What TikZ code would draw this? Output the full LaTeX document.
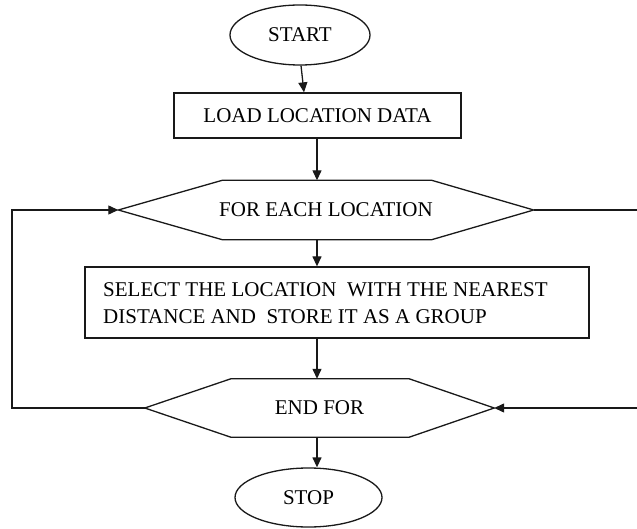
\documentclass[tikz,border=0pt]{standalone}
\usepackage{fontspec}
\setmainfont{Liberation Serif}
\usetikzlibrary{arrows.meta,shapes.geometric}

\tikzset{
  x=1pt, y=1pt,
  line/.style={line width=1.3pt, draw=black!90},
  flow/.style={line, -{Triangle[length=10pt,width=9pt]}},
  labelfont/.style={font=\fontsize{21}{27}\selectfont},
  terminal/.style={ellipse, line, inner sep=0pt, labelfont},
  procbox/.style={rectangle, line, inner sep=0pt, labelfont},
  hexbox/.style={rectangle, inner sep=0pt, labelfont},
}

\begin{document}
\begin{tikzpicture}
  \useasboundingbox (0,0) rectangle (637,-529);

  % terminals and process boxes
  \node[terminal, minimum width=140pt, minimum height=60pt] (start) at (300,-35) {START};
  \node[procbox, minimum width=287pt, minimum height=45pt] (load) at (317.5,-115.5) {LOAD LOCATION DATA};
  \node[procbox, minimum width=504pt, minimum height=71pt] (select) at (337,-302.5) {};
  \node[labelfont, anchor=west, align=left, inner sep=0pt] (selecttext) at (103,-303.5)
    {SELECT THE LOCATION\ \ WITH THE NEAREST\\DISTANCE AND\ \ STORE IT AS A GROUP};
  \node[terminal, minimum width=147pt, minimum height=59pt] (stop) at (308.5,-497.5) {STOP};

  % loop header and footer (hexagons drawn on the node frames)
  \node[hexbox, minimum width=415pt, minimum height=59pt] (loop) at (326,-210) {FOR EACH LOCATION};
  \draw[line] (loop.west) -- ([xshift=104pt]loop.north west) -- ([xshift=-102pt]loop.north east)
    -- (loop.east) -- ([xshift=-102pt]loop.south east) -- ([xshift=104pt]loop.south west) -- cycle;

  \node[hexbox, minimum width=349pt, minimum height=58pt] (endfor) at (319.5,-408) {END FOR};
  \draw[line] (endfor.west) -- ([xshift=86pt]endfor.north west) -- ([xshift=-85pt]endfor.north east)
    -- (endfor.east) -- ([xshift=-85pt]endfor.south east) -- ([xshift=86pt]endfor.south west) -- cycle;

  % main flow
  \coordinate (spine) at (317,0);
  \draw[flow] ([xshift=1pt]start.south) -- ([xshift=-13.5pt]load.north);
  \draw[flow] (load.south -| spine) -- (loop.north -| spine);
  \draw[flow] (loop.south -| spine) -- (select.north -| spine);
  \draw[flow] (select.south -| spine) -- (endfor.north -| spine);
  \draw[flow] (endfor.south -| spine) -- (stop.north -| spine);

  % loop-back connectors
  \coordinate (lx) at (12,0);
  \coordinate (rx) at (642,0);
  \draw[flow] (endfor.west) -- (endfor.west -| lx) -- (loop.west -| lx) -- (loop.west);
  \draw[flow] (loop.east) -- (loop.east -| rx) -- (endfor.east -| rx) -- (endfor.east);
\end{tikzpicture}
\end{document}
